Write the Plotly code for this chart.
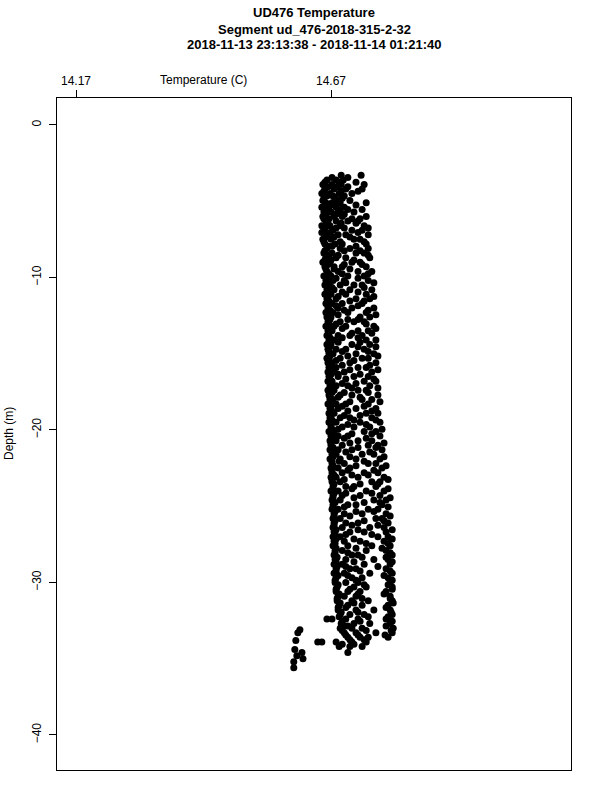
import plotly.graph_objects as go

# ---- data ----
title_lines = ["UD476 Temperature", "Segment ud_476-2018-315-2-32",
               "2018-11-13 23:13:38 - 2018-11-14 01:21:40"]
x_ticks = [14.17, 14.67]
y_ticks = [0, -10, -20, -30, -40]

# profile rows: (depth in m, temperatures in C observed at that depth)
profile_rows = [
    (-3.3, [14.690, 14.729]),
    (-3.6, [14.662, 14.680, 14.694]),
    (-3.9, [14.654, 14.672, 14.690, 14.735]),
    (-4.2, [14.658, 14.676, 14.699, 14.731]),
    (-4.5, [14.652, 14.668, 14.686, 14.711]),
    (-4.8, [14.656, 14.678, 14.692]),
    (-5.1, [14.660, 14.672, 14.688, 14.739]),
    (-5.4, [14.652, 14.666, 14.680, 14.696]),
    (-5.7, [14.656, 14.670, 14.684, 14.715]),
    (-6.0, [14.654, 14.676, 14.692, 14.739]),
    (-6.3, [14.660, 14.680, 14.703, 14.723]),
    (-6.6, [14.652, 14.668, 14.688, 14.735]),
    (-6.9, [14.656, 14.674, 14.711, 14.731]),
    (-7.2, [14.660, 14.684, 14.699, 14.743]),
    (-7.5, [14.654, 14.670, 14.715, 14.727]),
    (-7.8, [14.658, 14.678, 14.692, 14.739]),
    (-8.1, [14.662, 14.688, 14.707, 14.743]),
    (-8.4, [14.656, 14.672, 14.719, 14.735]),
    (-8.7, [14.660, 14.680, 14.699, 14.746]),
    (-9.0, [14.654, 14.668, 14.711, 14.727]),
    (-9.3, [14.658, 14.676, 14.692, 14.739]),
    (-9.6, [14.662, 14.684, 14.723, 14.750]),
    (-9.9, [14.656, 14.670, 14.703, 14.735]),
    (-10.2, [14.660, 14.674, 14.696, 14.743]),
    (-10.5, [14.658, 14.688, 14.715, 14.731]),
    (-10.8, [14.662, 14.676, 14.707, 14.750]),
    (-11.1, [14.658, 14.670, 14.699, 14.739]),
    (-11.4, [14.662, 14.680, 14.719, 14.746]),
    (-11.7, [14.660, 14.672, 14.692, 14.731]),
    (-12.0, [14.664, 14.684, 14.711, 14.754]),
    (-12.3, [14.660, 14.674, 14.703, 14.739]),
    (-12.6, [14.662, 14.670, 14.727, 14.746]),
    (-12.9, [14.664, 14.688, 14.715, 14.735]),
    (-13.2, [14.660, 14.676, 14.699, 14.754]),
    (-13.5, [14.664, 14.672, 14.723, 14.743]),
    (-13.8, [14.662, 14.684, 14.707, 14.731]),
    (-14.1, [14.666, 14.676, 14.739, 14.758]),
    (-14.4, [14.662, 14.670, 14.711, 14.746]),
    (-14.7, [14.664, 14.680, 14.699, 14.735]),
    (-15.0, [14.666, 14.674, 14.719, 14.754]),
    (-15.3, [14.662, 14.688, 14.731, 14.743]),
    (-15.6, [14.664, 14.672, 14.707, 14.758]),
    (-15.9, [14.666, 14.680, 14.723, 14.739]),
    (-16.2, [14.664, 14.676, 14.696, 14.750]),
    (-16.5, [14.666, 14.684, 14.715, 14.743]),
    (-16.8, [14.664, 14.672, 14.735, 14.758]),
    (-17.1, [14.668, 14.680, 14.703, 14.746]),
    (-17.4, [14.664, 14.676, 14.723, 14.739]),
    (-17.7, [14.666, 14.688, 14.711, 14.762]),
    (-18.0, [14.668, 14.674, 14.731, 14.750]),
    (-18.3, [14.664, 14.680, 14.699, 14.743]),
    (-18.6, [14.668, 14.684, 14.719, 14.758]),
    (-18.9, [14.666, 14.676, 14.739, 14.762]),
    (-19.2, [14.668, 14.688, 14.707, 14.750]),
    (-19.5, [14.666, 14.680, 14.727, 14.766]),
    (-19.8, [14.670, 14.692, 14.715, 14.746]),
    (-20.1, [14.666, 14.676, 14.735, 14.758]),
    (-20.4, [14.670, 14.684, 14.703, 14.766]),
    (-20.7, [14.668, 14.680, 14.723, 14.750]),
    (-21.0, [14.670, 14.692, 14.743, 14.762]),
    (-21.3, [14.668, 14.684, 14.711, 14.770]),
    (-21.6, [14.672, 14.680, 14.731, 14.754]),
    (-21.9, [14.668, 14.688, 14.719, 14.766]),
    (-22.2, [14.672, 14.696, 14.743, 14.758]),
    (-22.5, [14.670, 14.684, 14.707, 14.770]),
    (-22.8, [14.672, 14.692, 14.735, 14.762]),
    (-23.1, [14.670, 14.680, 14.723, 14.774]),
    (-23.4, [14.672, 14.688, 14.750, 14.766]),
    (-23.7, [14.674, 14.699, 14.715, 14.758]),
    (-24.0, [14.670, 14.684, 14.739, 14.774]),
    (-24.3, [14.674, 14.692, 14.727, 14.766]),
    (-24.6, [14.672, 14.688, 14.754, 14.778]),
    (-24.9, [14.674, 14.703, 14.719, 14.770]),
    (-25.2, [14.672, 14.684, 14.743, 14.762]),
    (-25.5, [14.676, 14.696, 14.731, 14.778]),
    (-25.8, [14.674, 14.688, 14.758, 14.770]),
    (-26.1, [14.676, 14.699, 14.723, 14.782]),
    (-26.4, [14.674, 14.692, 14.746, 14.774]),
    (-26.7, [14.676, 14.707, 14.735, 14.778]),
    (-27.0, [14.674, 14.688, 14.762, 14.782]),
    (-27.3, [14.676, 14.696, 14.727, 14.774]),
    (-27.6, [14.674, 14.703, 14.750, 14.786]),
    (-27.9, [14.678, 14.692, 14.739, 14.778]),
    (-28.2, [14.676, 14.711, 14.723, 14.790]),
    (-28.5, [14.678, 14.699, 14.754, 14.782]),
    (-28.8, [14.676, 14.692, 14.735, 14.786]),
    (-29.1, [14.680, 14.707, 14.719, 14.778]),
    (-29.4, [14.676, 14.696, 14.746, 14.790]),
    (-29.7, [14.680, 14.711, 14.731, 14.782]),
    (-30.0, [14.678, 14.699, 14.723, 14.786]),
    (-30.3, [14.682, 14.715, 14.739, 14.790]),
    (-30.6, [14.680, 14.703, 14.727, 14.778]),
    (-30.9, [14.684, 14.696, 14.719, 14.786]),
    (-31.2, [14.682, 14.711, 14.743, 14.790]),
    (-31.5, [14.686, 14.703, 14.731, 14.782]),
    (-31.8, [14.684, 14.719, 14.754, 14.786]),
    (-32.1, [14.688, 14.707, 14.735, 14.790]),
    (-32.4, [14.662, 14.672, 14.699, 14.723, 14.778]),
    (-32.7, [14.690, 14.715, 14.746, 14.786]),
    (-33.0, [14.688, 14.711, 14.731, 14.792]),
    (-33.3, [14.696, 14.719, 14.758, 14.790]),
    (-33.6, [14.703, 14.727, 14.743, 14.782]),
    (-33.9, [14.644, 14.652, 14.680, 14.711, 14.739]),
    (-34.2, [14.686, 14.707, 14.731]),
    (-34.6, [14.703]),
]

# second pass of the cast (interleaved depths)
return_rows = [
    (-3.45, [14.672, 14.703]),
    (-3.75, [14.658, 14.686, 14.719]),
    (-4.05, [14.664, 14.682, 14.703]),
    (-4.35, [14.656, 14.690, 14.723]),
    (-4.65, [14.662, 14.674, 14.696]),
    (-4.95, [14.654, 14.684, 14.707]),
    (-5.25, [14.658, 14.676, 14.719]),
    (-5.55, [14.664, 14.688, 14.703, 14.731]),
    (-5.85, [14.660, 14.680, 14.696]),
    (-6.15, [14.656, 14.666, 14.711, 14.727]),
    (-6.45, [14.664, 14.690, 14.719]),
    (-6.75, [14.658, 14.680, 14.696, 14.743]),
    (-7.05, [14.652, 14.668, 14.723]),
    (-7.35, [14.662, 14.676, 14.707]),
    (-7.65, [14.656, 14.688, 14.735]),
    (-7.95, [14.664, 14.672, 14.719]),
    (-8.25, [14.658, 14.696, 14.727]),
    (-8.55, [14.666, 14.684, 14.743]),
    (-8.85, [14.658, 14.670, 14.715]),
    (-9.15, [14.664, 14.696, 14.731]),
    (-9.45, [14.660, 14.676, 14.707]),
    (-9.75, [14.666, 14.692, 14.743]),
    (-10.05, [14.662, 14.680, 14.723]),
    (-10.35, [14.666, 14.699, 14.754]),
    (-10.65, [14.664, 14.672, 14.735]),
    (-10.95, [14.666, 14.692, 14.723]),
    (-11.25, [14.664, 14.684, 14.754]),
    (-11.55, [14.666, 14.707, 14.735]),
    (-11.85, [14.664, 14.680, 14.723]),
    (-12.15, [14.668, 14.696, 14.743]),
    (-12.45, [14.664, 14.684, 14.758]),
    (-12.75, [14.668, 14.703, 14.723]),
    (-13.05, [14.666, 14.680, 14.739]),
    (-13.35, [14.668, 14.692, 14.758]),
    (-13.65, [14.666, 14.711, 14.750]),
    (-13.95, [14.668, 14.692, 14.723]),
    (-14.25, [14.666, 14.684, 14.727]),
    (-14.55, [14.668, 14.723, 14.758]),
    (-14.85, [14.666, 14.692, 14.743]),
    (-15.15, [14.668, 14.703, 14.762]),
    (-15.45, [14.666, 14.680, 14.715]),
    (-15.75, [14.670, 14.692, 14.746]),
    (-16.05, [14.668, 14.707, 14.762]),
    (-16.35, [14.670, 14.684, 14.727]),
    (-16.65, [14.668, 14.699, 14.754]),
    (-16.95, [14.670, 14.692, 14.719]),
    (-17.25, [14.668, 14.711, 14.762]),
    (-17.55, [14.672, 14.696, 14.743]),
    (-17.85, [14.668, 14.684, 14.727]),
    (-18.15, [14.672, 14.707, 14.766]),
    (-18.45, [14.670, 14.692, 14.735]),
    (-18.75, [14.672, 14.703, 14.750]),
    (-19.05, [14.670, 14.696, 14.727]),
    (-19.35, [14.672, 14.715, 14.758]),
    (-19.65, [14.670, 14.703, 14.739]),
    (-19.95, [14.672, 14.684, 14.770]),
    (-20.25, [14.670, 14.711, 14.750]),
    (-20.55, [14.674, 14.696, 14.739]),
    (-20.85, [14.670, 14.707, 14.774]),
    (-21.15, [14.674, 14.723, 14.758]),
    (-21.45, [14.672, 14.699, 14.746]),
    (-21.75, [14.674, 14.707, 14.774]),
    (-22.05, [14.672, 14.686, 14.735]),
    (-22.35, [14.674, 14.719, 14.778]),
    (-22.65, [14.672, 14.703, 14.754]),
    (-22.95, [14.676, 14.711, 14.743]),
    (-23.25, [14.672, 14.696, 14.782]),
    (-23.55, [14.676, 14.727, 14.762]),
    (-23.85, [14.674, 14.711, 14.782]),
    (-24.15, [14.676, 14.699, 14.750]),
    (-24.45, [14.674, 14.715, 14.786]),
    (-24.75, [14.678, 14.735, 14.766]),
    (-25.05, [14.674, 14.696, 14.782]),
    (-25.35, [14.678, 14.719, 14.754]),
    (-25.65, [14.676, 14.707, 14.786]),
    (-25.95, [14.678, 14.735, 14.774]),
    (-26.25, [14.676, 14.711, 14.762]),
    (-26.55, [14.680, 14.723, 14.790]),
    (-26.85, [14.678, 14.699, 14.750]),
    (-27.15, [14.680, 14.715, 14.790]),
    (-27.45, [14.678, 14.739, 14.782]),
    (-27.75, [14.680, 14.719, 14.770]),
    (-28.05, [14.678, 14.703, 14.786]),
    (-28.35, [14.682, 14.731, 14.778]),
    (-28.65, [14.680, 14.715, 14.790]),
    (-28.95, [14.682, 14.699, 14.762]),
    (-29.25, [14.680, 14.727, 14.786]),
    (-29.55, [14.684, 14.703, 14.774]),
    (-29.85, [14.678, 14.719, 14.790]),
    (-30.15, [14.684, 14.735, 14.782]),
    (-30.45, [14.680, 14.707, 14.790]),
    (-30.75, [14.686, 14.723, 14.774]),
    (-31.05, [14.682, 14.731, 14.786]),
    (-31.35, [14.688, 14.715, 14.792]),
    (-31.65, [14.684, 14.699, 14.778]),
    (-31.95, [14.690, 14.723, 14.788]),
    (-32.25, [14.686, 14.743, 14.782]),
    (-32.55, [14.692, 14.727, 14.790]),
    (-32.85, [14.696, 14.703, 14.778]),
    (-33.15, [14.692, 14.739, 14.788]),
    (-33.45, [14.699, 14.723, 14.776]),
    (-33.75, [14.707, 14.735]),
    (-34.05, [14.692, 14.715]),
]

# shallow-water tail at the bottom left of the cast
tail_depth = [-33.1, -33.3, -33.8, -34.4, -34.8, -35.2, -35.6, -34.6, -35.0]
tail_temp = [14.609, 14.605, 14.601, 14.599, 14.603, 14.597, 14.597, 14.613, 14.615]

# ---- build ----
depth = []
temp = []
for d, ts in profile_rows + return_rows:
    for t in ts:
        depth.append(d)
        temp.append(t)
depth += tail_depth
temp += tail_temp

font = "Liberation Sans, Arial, Helvetica, sans-serif"

fig = go.Figure(go.Scatter(
    x=temp, y=depth, mode="markers",
    marker=dict(color="black", size=7, line=dict(width=0)),
    showlegend=False, hoverinfo="x+y"))

L, R, T, B = 57, 29, 98, 30
H = 800 - T - B

fig.update_layout(
    width=600, height=800,
    margin=dict(l=L, r=R, t=T, b=B, pad=0, autoexpand=False),
    paper_bgcolor="white", plot_bgcolor="white",
    font=dict(family=font, size=12, color="black"),
    xaxis=dict(side="top", range=[14.1327, 15.1406], tickvals=x_ticks,
               ticktext=[f"{v:.2f}" for v in x_ticks],
               ticks="outside", ticklen=7, tickwidth=1, tickcolor="black",
               showline=True, mirror=True, linecolor="black", linewidth=1,
               showgrid=False, zeroline=False, fixedrange=True,
               automargin=False,
               tickfont=dict(family=font, size=12)),
    yaxis=dict(range=[-42.3, 1.77], tickvals=y_ticks,
               ticktext=[str(v).replace("-", "\u2212") for v in y_ticks],
               ticks="outside", ticklen=7, tickwidth=1, tickcolor="black",
               tickangle=-90, automargin=False, ticklabelstandoff=3,
               showline=True, mirror=True, linecolor="black", linewidth=1,
               showgrid=False, zeroline=False, fixedrange=True,
               tickfont=dict(family=font, size=12)),
)

title_y = [12, 29, 45]
for txt, py in zip(title_lines, title_y):
    fig.add_annotation(text=f"<b>{txt}</b>", xref="paper", yref="paper",
                       x=0.5, y=1 + (T - py) / H, xanchor="center",
                       yanchor="middle", showarrow=False,
                       font=dict(family=font, size=13, color="black"))

fig.add_annotation(text="Temperature (C)", xref="x", yref="paper",
                   x=(x_ticks[0] + x_ticks[1]) / 2, y=1 + (T - 80) / H,
                   xanchor="center", yanchor="middle", showarrow=False,
                   font=dict(family=font, size=12, color="black"))
fig.add_annotation(text="Depth (m)", xref="paper", yref="paper",
                   x=(9 - L) / 514, y=0.5, xanchor="center", yanchor="middle",
                   textangle=-90, showarrow=False,
                   font=dict(family=font, size=12, color="black"))

fig.write_html("out.html",
               config={"displayModeBar": False, "staticPlot": True},
               post_script="document.body.style.margin='0';"
                           "document.body.style.padding='0';")
